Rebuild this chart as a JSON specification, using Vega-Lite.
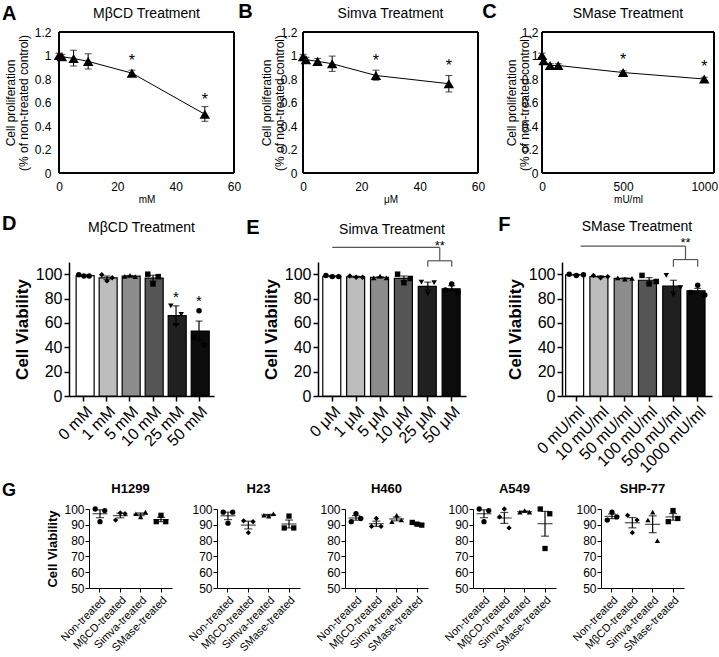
{
"$schema": "https://vega.github.io/schema/vega-lite/v6.json",
"padding": {"left": 2, "top": 2, "right": 0, "bottom": 0},
"background": "white",
"config": {
  "font": "Liberation Sans",
  "view": {"stroke": null},
  "axis": {"grid": false, "labelOverlap": false, "domainColor": "black", "tickColor": "black", "labelColor": "black", "titleColor": "black", "labelFont": "Liberation Sans", "titleFont": "Liberation Sans"},
  "title": {"font": "Liberation Sans", "color": "black", "fontWeight": "normal"}
},
"datasets": {
  "prolif": [
    {"p":"A","x":0,"y":1.0,"lo":0.98,"hi":1.02},
    {"p":"A","x":1,"y":0.99,"lo":0.97,"hi":1.01},
    {"p":"A","x":5,"y":0.975,"lo":0.91,"hi":1.045},
    {"p":"A","x":10,"y":0.95,"lo":0.885,"hi":1.015},
    {"p":"A","x":25,"y":0.85,"lo":0.825,"hi":0.875},
    {"p":"A","x":50,"y":0.5,"lo":0.44,"hi":0.565},
    {"p":"B","x":0,"y":0.99,"lo":0.97,"hi":1.01},
    {"p":"B","x":1,"y":0.965,"lo":0.945,"hi":0.985},
    {"p":"B","x":5,"y":0.95,"lo":0.925,"hi":0.975},
    {"p":"B","x":10,"y":0.93,"lo":0.865,"hi":0.995},
    {"p":"B","x":25,"y":0.83,"lo":0.79,"hi":0.875},
    {"p":"B","x":50,"y":0.76,"lo":0.69,"hi":0.83},
    {"p":"C","x":0,"y":1.0,"lo":0.98,"hi":1.02},
    {"p":"C","x":10,"y":0.955,"lo":0.94,"hi":0.97},
    {"p":"C","x":50,"y":0.915,"lo":0.9,"hi":0.93},
    {"p":"C","x":100,"y":0.915,"lo":0.9,"hi":0.93},
    {"p":"C","x":500,"y":0.855,"lo":0.84,"hi":0.87},
    {"p":"C","x":1000,"y":0.8,"lo":0.785,"hi":0.815}
  ],
  "prolifStar": [
    {"p":"A","x":25,"y":0.98},{"p":"A","x":50,"y":0.65},
    {"p":"B","x":25,"y":0.98},{"p":"B","x":50,"y":0.94},
    {"p":"C","x":500,"y":0.99},{"p":"C","x":1000,"y":0.93}
  ],
  "bars": [
    {"p":"D","c":"0 mM","k":1,"m":98.8,"lo":98.3,"hi":99.3},
    {"p":"D","c":"1 mM","k":2,"m":97,"lo":95.5,"hi":98.5},
    {"p":"D","c":"5 mM","k":3,"m":98.4,"lo":97.9,"hi":98.9},
    {"p":"D","c":"10 mM","k":4,"m":96.7,"lo":94.3,"hi":99.1},
    {"p":"D","c":"25 mM","k":5,"m":66,"lo":59,"hi":74},
    {"p":"D","c":"50 mM","k":6,"m":53.3,"lo":45.5,"hi":61.5},
    {"p":"E","c":"0 μM","k":1,"m":98.3,"lo":97.8,"hi":98.8},
    {"p":"E","c":"1 μM","k":2,"m":97.8,"lo":97.3,"hi":98.3},
    {"p":"E","c":"5 μM","k":3,"m":97.5,"lo":97,"hi":98},
    {"p":"E","c":"10 μM","k":4,"m":96.5,"lo":94.5,"hi":98.5},
    {"p":"E","c":"25 μM","k":5,"m":90,"lo":87,"hi":93.5},
    {"p":"E","c":"50 μM","k":6,"m":88,"lo":86.5,"hi":90.5},
    {"p":"F","c":"0 mU/ml","k":1,"m":99.5,"lo":99.2,"hi":99.8},
    {"p":"F","c":"10 mU/ml","k":2,"m":98,"lo":97.4,"hi":98.6},
    {"p":"F","c":"50 mU/ml","k":3,"m":96.5,"lo":96.2,"hi":96.8},
    {"p":"F","c":"100 mU/ml","k":4,"m":95,"lo":92.8,"hi":97.2},
    {"p":"F","c":"500 mU/ml","k":5,"m":90.3,"lo":85.6,"hi":95},
    {"p":"F","c":"1000 mU/ml","k":6,"m":86.3,"lo":84.3,"hi":88.3}
  ],
  "barPts": [
    {"p":"D","c":"0 mM","k":1,"r":"a","v":99.5},{"p":"D","c":"0 mM","k":1,"r":"b","v":98.5},{"p":"D","c":"0 mM","k":1,"r":"c","v":98.5},
    {"p":"D","c":"1 mM","k":2,"r":"a","v":99.5},{"p":"D","c":"1 mM","k":2,"r":"b","v":94.5},{"p":"D","c":"1 mM","k":2,"r":"c","v":97},
    {"p":"D","c":"5 mM","k":3,"r":"a","v":98.2},{"p":"D","c":"5 mM","k":3,"r":"b","v":99},{"p":"D","c":"5 mM","k":3,"r":"c","v":98},
    {"p":"D","c":"10 mM","k":4,"r":"a","v":100},{"p":"D","c":"10 mM","k":4,"r":"b","v":92},{"p":"D","c":"10 mM","k":4,"r":"c","v":98},
    {"p":"D","c":"25 mM","k":5,"r":"a","v":74},{"p":"D","c":"25 mM","k":5,"r":"b","v":58},{"p":"D","c":"25 mM","k":5,"r":"c","v":67},
    {"p":"D","c":"50 mM","k":6,"r":"a","v":48},{"p":"D","c":"50 mM","k":6,"r":"b","v":70},{"p":"D","c":"50 mM","k":6,"r":"c","v":42},
    {"p":"E","c":"0 μM","k":1,"r":"a","v":99},{"p":"E","c":"0 μM","k":1,"r":"b","v":98},{"p":"E","c":"0 μM","k":1,"r":"c","v":98},
    {"p":"E","c":"1 μM","k":2,"r":"a","v":98.5},{"p":"E","c":"1 μM","k":2,"r":"b","v":97.5},{"p":"E","c":"1 μM","k":2,"r":"c","v":97.5},
    {"p":"E","c":"5 μM","k":3,"r":"a","v":97},{"p":"E","c":"5 μM","k":3,"r":"b","v":98.5},{"p":"E","c":"5 μM","k":3,"r":"c","v":97},
    {"p":"E","c":"10 μM","k":4,"r":"a","v":100},{"p":"E","c":"10 μM","k":4,"r":"b","v":93},{"p":"E","c":"10 μM","k":4,"r":"c","v":96.5},
    {"p":"E","c":"25 μM","k":5,"r":"a","v":93.5},{"p":"E","c":"25 μM","k":5,"r":"b","v":84},{"p":"E","c":"25 μM","k":5,"r":"c","v":93},
    {"p":"E","c":"50 μM","k":6,"r":"a","v":87},{"p":"E","c":"50 μM","k":6,"r":"b","v":92},{"p":"E","c":"50 μM","k":6,"r":"c","v":85},
    {"p":"F","c":"0 mU/ml","k":1,"r":"a","v":100},{"p":"F","c":"0 mU/ml","k":1,"r":"b","v":99},{"p":"F","c":"0 mU/ml","k":1,"r":"c","v":99.5},
    {"p":"F","c":"10 mU/ml","k":2,"r":"a","v":99},{"p":"F","c":"10 mU/ml","k":2,"r":"b","v":97},{"p":"F","c":"10 mU/ml","k":2,"r":"c","v":98},
    {"p":"F","c":"50 mU/ml","k":3,"r":"a","v":97},{"p":"F","c":"50 mU/ml","k":3,"r":"b","v":96},{"p":"F","c":"50 mU/ml","k":3,"r":"c","v":96.5},
    {"p":"F","c":"100 mU/ml","k":4,"r":"a","v":99},{"p":"F","c":"100 mU/ml","k":4,"r":"b","v":92},{"p":"F","c":"100 mU/ml","k":4,"r":"c","v":94},
    {"p":"F","c":"500 mU/ml","k":5,"r":"a","v":99},{"p":"F","c":"500 mU/ml","k":5,"r":"b","v":83},{"p":"F","c":"500 mU/ml","k":5,"r":"c","v":89},
    {"p":"F","c":"1000 mU/ml","k":6,"r":"a","v":85},{"p":"F","c":"1000 mU/ml","k":6,"r":"b","v":91},{"p":"F","c":"1000 mU/ml","k":6,"r":"c","v":83}
  ],
  "gPts": [
    {"cl":"H1299","t":"Non-treated","r":"a","v":100},{"cl":"H1299","t":"Non-treated","r":"b","v":92},{"cl":"H1299","t":"Non-treated","r":"c","v":99},
    {"cl":"H1299","t":"MβCD-treated","r":"a","v":93},{"cl":"H1299","t":"MβCD-treated","r":"b","v":97.5},{"cl":"H1299","t":"MβCD-treated","r":"c","v":97},
    {"cl":"H1299","t":"Simva-treated","r":"a","v":97},{"cl":"H1299","t":"Simva-treated","r":"b","v":95},{"cl":"H1299","t":"Simva-treated","r":"c","v":98},
    {"cl":"H1299","t":"SMase-treated","r":"a","v":92},{"cl":"H1299","t":"SMase-treated","r":"b","v":96},{"cl":"H1299","t":"SMase-treated","r":"c","v":92},
    {"cl":"H23","t":"Non-treated","r":"a","v":98},{"cl":"H23","t":"Non-treated","r":"b","v":91},{"cl":"H23","t":"Non-treated","r":"c","v":98},
    {"cl":"H23","t":"MβCD-treated","r":"a","v":92.5},{"cl":"H23","t":"MβCD-treated","r":"b","v":85},{"cl":"H23","t":"MβCD-treated","r":"c","v":92},
    {"cl":"H23","t":"Simva-treated","r":"a","v":96},{"cl":"H23","t":"Simva-treated","r":"b","v":95.5},{"cl":"H23","t":"Simva-treated","r":"c","v":97},
    {"cl":"H23","t":"SMase-treated","r":"a","v":88},{"cl":"H23","t":"SMase-treated","r":"b","v":95.5},{"cl":"H23","t":"SMase-treated","r":"c","v":88},
    {"cl":"H460","t":"Non-treated","r":"a","v":92},{"cl":"H460","t":"Non-treated","r":"b","v":97},{"cl":"H460","t":"Non-treated","r":"c","v":94},
    {"cl":"H460","t":"MβCD-treated","r":"a","v":89},{"cl":"H460","t":"MβCD-treated","r":"b","v":94},{"cl":"H460","t":"MβCD-treated","r":"c","v":89},
    {"cl":"H460","t":"Simva-treated","r":"a","v":92},{"cl":"H460","t":"Simva-treated","r":"b","v":96},{"cl":"H460","t":"Simva-treated","r":"c","v":93},
    {"cl":"H460","t":"SMase-treated","r":"a","v":91.5},{"cl":"H460","t":"SMase-treated","r":"b","v":90.4},{"cl":"H460","t":"SMase-treated","r":"c","v":89.8},
    {"cl":"A549","t":"Non-treated","r":"a","v":100},{"cl":"A549","t":"Non-treated","r":"b","v":92},{"cl":"A549","t":"Non-treated","r":"c","v":99},
    {"cl":"A549","t":"MβCD-treated","r":"a","v":95},{"cl":"A549","t":"MβCD-treated","r":"b","v":100},{"cl":"A549","t":"MβCD-treated","r":"c","v":88},
    {"cl":"A549","t":"Simva-treated","r":"a","v":98},{"cl":"A549","t":"Simva-treated","r":"b","v":99},{"cl":"A549","t":"Simva-treated","r":"c","v":98},
    {"cl":"A549","t":"SMase-treated","r":"a","v":100},{"cl":"A549","t":"SMase-treated","r":"b","v":75},{"cl":"A549","t":"SMase-treated","r":"c","v":97},
    {"cl":"SHP-77","t":"Non-treated","r":"a","v":93},{"cl":"SHP-77","t":"Non-treated","r":"b","v":98},{"cl":"SHP-77","t":"Non-treated","r":"c","v":95},
    {"cl":"SHP-77","t":"MβCD-treated","r":"a","v":96},{"cl":"SHP-77","t":"MβCD-treated","r":"b","v":85},{"cl":"SHP-77","t":"MβCD-treated","r":"c","v":93},
    {"cl":"SHP-77","t":"Simva-treated","r":"a","v":93},{"cl":"SHP-77","t":"Simva-treated","r":"b","v":98},{"cl":"SHP-77","t":"Simva-treated","r":"c","v":80},
    {"cl":"SHP-77","t":"SMase-treated","r":"a","v":92},{"cl":"SHP-77","t":"SMase-treated","r":"b","v":99},{"cl":"SHP-77","t":"SMase-treated","r":"c","v":94}
  ],
  "gSum": [
    {"cl":"H1299","t":"Non-treated","m":97,"lo":94.5,"hi":99.5},
    {"cl":"H1299","t":"MβCD-treated","m":95.8,"lo":94.4,"hi":97.3},
    {"cl":"H1299","t":"Simva-treated","m":96.7,"lo":95.8,"hi":97.5},
    {"cl":"H1299","t":"SMase-treated","m":93.3,"lo":92,"hi":94.7},
    {"cl":"H23","t":"Non-treated","m":95.7,"lo":93.3,"hi":98},
    {"cl":"H23","t":"MβCD-treated","m":89.8,"lo":87.4,"hi":92.3},
    {"cl":"H23","t":"Simva-treated","m":96.2,"lo":95.7,"hi":96.6},
    {"cl":"H23","t":"SMase-treated","m":90.5,"lo":88,"hi":93},
    {"cl":"H460","t":"Non-treated","m":94.3,"lo":92.9,"hi":95.8},
    {"cl":"H460","t":"MβCD-treated","m":90.7,"lo":89,"hi":92.3},
    {"cl":"H460","t":"Simva-treated","m":93.7,"lo":92.5,"hi":94.9},
    {"cl":"H460","t":"SMase-treated","m":90.6,"lo":90.1,"hi":91.1},
    {"cl":"A549","t":"Non-treated","m":97,"lo":94.5,"hi":99.5},
    {"cl":"A549","t":"MβCD-treated","m":94.3,"lo":90.9,"hi":97.8},
    {"cl":"A549","t":"Simva-treated","m":98.3,"lo":98,"hi":98.7},
    {"cl":"A549","t":"SMase-treated","m":90.7,"lo":82.8,"hi":98.5},
    {"cl":"SHP-77","t":"Non-treated","m":95.3,"lo":93.9,"hi":96.8},
    {"cl":"SHP-77","t":"MβCD-treated","m":91.3,"lo":88.1,"hi":94.6},
    {"cl":"SHP-77","t":"Simva-treated","m":90.3,"lo":85,"hi":95.7},
    {"cl":"SHP-77","t":"SMase-treated","m":95,"lo":92.9,"hi":97.1}
  ]
},
"resolve": {"scale": {"shape": "independent", "color": "independent", "xOffset": "independent"}},
"spacing": 6,
"vconcat": [
{
"spacing": 10,
"resolve": {"scale": {"shape": "independent", "color": "independent", "xOffset": "independent"}},
"vconcat": [
{
  "spacing": -13,
  "resolve": {"scale": {"shape": "independent", "color": "independent", "xOffset": "independent"}},
  "hconcat": [
    {"width": 14, "height": 141,
     "title": {"text": "A", "anchor": "start", "fontSize": 20, "fontWeight": "bold", "offset": 8},
     "data": {"values": []}, "mark": {"type": "point", "opacity": 0}, "encoding": {}},
    {
      "spacing": -3,
      "resolve": {"scale": {"shape": "independent", "color": "independent", "xOffset": "independent"}},
      "hconcat": [
      {
        "width": 175, "height": 141,
        "title": {"text": "MβCD Treatment", "fontSize": 14, "offset": 5},
        "data": {"name": "prolif"},
        "transform": [{"filter": "datum.p == 'A'"}],
        "encoding": {
          "x": {"field": "x", "type": "quantitative", "scale": {"domain": [0, 60]}, "axis": {"values": [0, 20, 40, 60], "title": "mM", "titleFontSize": 10, "titleFontWeight": "normal", "titlePadding": 2, "labelFontSize": 12, "labelPadding": 8, "labelFlush": false, "domain": false, "ticks": false}}
        },
        "layer": [
          {"mark": {"type": "line", "color": "black", "strokeWidth": 1},
           "encoding": {"y": {"field": "y", "type": "quantitative", "scale": {"domain": [0, 1.2]}, "axis": {"values": [0, 0.2, 0.4, 0.6, 0.8, 1, 1.2], "tickCount": 7, "labelExpr": "'' + datum.value", "labelOverlap": false, "title": ["Cell proliferation", "(% of non-treated control)"], "titleFontSize": 12, "titleFontWeight": "normal", "titleLineHeight": 13, "titlePadding": 4, "labelFontSize": 12, "labelPadding": 8, "domain": false, "ticks": false}}}},
          {"mark": {"type": "errorbar", "color": "black", "ticks": {"size": 7}},
           "encoding": {"y": {"field": "lo", "type": "quantitative", "axis": {"values": [0, 0.2, 0.4, 0.6, 0.8, 1, 1.2], "tickCount": 7, "labelExpr": "'' + datum.value", "labelOverlap": false, "title": ["Cell proliferation", "(% of non-treated control)"], "titleFontSize": 12, "titleFontWeight": "normal", "titleLineHeight": 13, "titlePadding": 4, "labelFontSize": 12, "labelPadding": 8, "domain": false, "ticks": false}}, "y2": {"field": "hi"}}},
          {"mark": {"type": "point", "shape": "triangle-up", "filled": true, "color": "black", "size": 110, "opacity": 1},
           "encoding": {"y": {"field": "y", "type": "quantitative", "axis": {"values": [0, 0.2, 0.4, 0.6, 0.8, 1, 1.2], "tickCount": 7, "labelExpr": "'' + datum.value", "labelOverlap": false, "title": ["Cell proliferation", "(% of non-treated control)"], "titleFontSize": 12, "titleFontWeight": "normal", "titleLineHeight": 13, "titlePadding": 4, "labelFontSize": 12, "labelPadding": 8, "domain": false, "ticks": false}}}},
          {"mark": {"type": "rule", "color": "black", "strokeWidth": 1}, "encoding": {"x": {"datum": 0}}},
          {"mark": {"type": "rule", "color": "black", "strokeWidth": 1}, "encoding": {"x": {"datum": 60}}},
          {"mark": {"type": "rule", "color": "black", "strokeWidth": 1}, "encoding": {"x": {"datum": 0}, "x2": {"datum": 60}, "y": {"datum": 0}}},
          {"mark": {"type": "rule", "color": "black", "strokeWidth": 1}, "encoding": {"x": {"datum": 0}, "x2": {"datum": 60}, "y": {"datum": 1.2}}},
          {"data": {"name": "prolifStar"}, "transform": [{"filter": "datum.p == 'A'"}],
           "mark": {"type": "text", "text": "*", "fontSize": 16, "baseline": "alphabetic", "dy": 8},
           "encoding": {"y": {"field": "y", "type": "quantitative", "axis": {"values": [0, 0.2, 0.4, 0.6, 0.8, 1, 1.2], "tickCount": 7, "labelExpr": "'' + datum.value", "labelOverlap": false, "title": ["Cell proliferation", "(% of non-treated control)"], "titleFontSize": 12, "titleFontWeight": "normal", "titleLineHeight": 13, "titlePadding": 4, "labelFontSize": 12, "labelPadding": 8, "domain": false, "ticks": false}}}}
        ]
      },
      {
        "title": {"text": "B", "anchor": "start", "fontSize": 20, "fontWeight": "bold", "offset": -15, "dx": -22},
        "hconcat": [{
          "width": 175, "height": 141,
          "title": {"text": "Simva Treatment", "fontSize": 14, "offset": 5},
          "data": {"name": "prolif"},
          "transform": [{"filter": "datum.p == 'B'"}],
          "encoding": {
            "x": {"field": "x", "type": "quantitative", "scale": {"domain": [0, 60]}, "axis": {"values": [0, 20, 40, 60], "title": "μM", "titleFontSize": 10, "titleFontWeight": "normal", "titlePadding": 2, "labelFontSize": 12, "labelPadding": 8, "labelFlush": false, "domain": false, "ticks": false}}
          },
          "layer": [
            {"mark": {"type": "line", "color": "black", "strokeWidth": 1},
             "encoding": {"y": {"field": "y", "type": "quantitative", "scale": {"domain": [0, 1.2]}, "axis": {"values": [0, 0.2, 0.4, 0.6, 0.8, 1, 1.2], "tickCount": 7, "labelExpr": "'' + datum.value", "labelOverlap": false, "title": ["Cell proliferation", "(% of non-treated control)"], "titleFontSize": 12, "titleFontWeight": "normal", "titleLineHeight": 13, "titlePadding": -6, "labelFontSize": 12, "labelPadding": 6, "domain": false, "ticks": false}}}},
            {"mark": {"type": "errorbar", "color": "black", "ticks": {"size": 7}},
             "encoding": {"y": {"field": "lo", "type": "quantitative", "axis": {"values": [0, 0.2, 0.4, 0.6, 0.8, 1, 1.2], "tickCount": 7, "labelExpr": "'' + datum.value", "labelOverlap": false, "title": ["Cell proliferation", "(% of non-treated control)"], "titleFontSize": 12, "titleFontWeight": "normal", "titleLineHeight": 13, "titlePadding": -6, "labelFontSize": 12, "labelPadding": 6, "domain": false, "ticks": false}}, "y2": {"field": "hi"}}},
            {"mark": {"type": "point", "shape": "triangle-up", "filled": true, "color": "black", "size": 110, "opacity": 1},
             "encoding": {"y": {"field": "y", "type": "quantitative", "axis": {"values": [0, 0.2, 0.4, 0.6, 0.8, 1, 1.2], "tickCount": 7, "labelExpr": "'' + datum.value", "labelOverlap": false, "title": ["Cell proliferation", "(% of non-treated control)"], "titleFontSize": 12, "titleFontWeight": "normal", "titleLineHeight": 13, "titlePadding": -6, "labelFontSize": 12, "labelPadding": 6, "domain": false, "ticks": false}}}},
            {"mark": {"type": "rule", "color": "black", "strokeWidth": 1}, "encoding": {"x": {"datum": 0}}},
            {"mark": {"type": "rule", "color": "black", "strokeWidth": 1}, "encoding": {"x": {"datum": 60}}},
            {"mark": {"type": "rule", "color": "black", "strokeWidth": 1}, "encoding": {"x": {"datum": 0}, "x2": {"datum": 60}, "y": {"datum": 0}}},
            {"mark": {"type": "rule", "color": "black", "strokeWidth": 1}, "encoding": {"x": {"datum": 0}, "x2": {"datum": 60}, "y": {"datum": 1.2}}},
            {"data": {"name": "prolifStar"}, "transform": [{"filter": "datum.p == 'B'"}],
             "mark": {"type": "text", "text": "*", "fontSize": 16, "baseline": "alphabetic", "dy": 8},
             "encoding": {"y": {"field": "y", "type": "quantitative", "axis": {"values": [0, 0.2, 0.4, 0.6, 0.8, 1, 1.2], "tickCount": 7, "labelExpr": "'' + datum.value", "labelOverlap": false, "title": ["Cell proliferation", "(% of non-treated control)"], "titleFontSize": 12, "titleFontWeight": "normal", "titleLineHeight": 13, "titlePadding": -6, "labelFontSize": 12, "labelPadding": 6, "domain": false, "ticks": false}}}}
          ]
        }]
      },
      {
        "title": {"text": "C", "anchor": "start", "fontSize": 20, "fontWeight": "bold", "offset": -15, "dx": -23},
        "hconcat": [{
          "width": 172, "height": 141,
          "title": {"text": "SMase Treatment", "fontSize": 14, "offset": 5},
          "data": {"name": "prolif"},
          "transform": [{"filter": "datum.p == 'C'"}],
          "encoding": {
            "x": {"field": "x", "type": "quantitative", "scale": {"domain": [0, 1060]}, "axis": {"values": [0, 500, 1000], "format": "d", "title": "mU/ml", "titleFontSize": 10, "titleFontWeight": "normal", "titlePadding": 2, "labelFontSize": 12, "labelPadding": 8, "labelFlush": false, "domain": false, "ticks": false}}
          },
          "layer": [
            {"mark": {"type": "line", "color": "black", "strokeWidth": 1},
             "encoding": {"y": {"field": "y", "type": "quantitative", "scale": {"domain": [0, 1.2]}, "axis": {"values": [0, 0.2, 0.4, 0.6, 0.8, 1, 1.2], "tickCount": 7, "labelExpr": "'' + datum.value", "labelOverlap": false, "title": ["Cell proliferation", "(% of non-treated control)"], "titleFontSize": 12, "titleFontWeight": "normal", "titleLineHeight": 13, "titlePadding": -10, "labelFontSize": 12, "labelPadding": 4, "domain": false, "ticks": false}}}},
            {"mark": {"type": "errorbar", "color": "black", "ticks": {"size": 7}},
             "encoding": {"y": {"field": "lo", "type": "quantitative", "axis": {"values": [0, 0.2, 0.4, 0.6, 0.8, 1, 1.2], "tickCount": 7, "labelExpr": "'' + datum.value", "labelOverlap": false, "title": ["Cell proliferation", "(% of non-treated control)"], "titleFontSize": 12, "titleFontWeight": "normal", "titleLineHeight": 13, "titlePadding": -10, "labelFontSize": 12, "labelPadding": 4, "domain": false, "ticks": false}}, "y2": {"field": "hi"}}},
            {"mark": {"type": "point", "shape": "triangle-up", "filled": true, "color": "black", "size": 110, "opacity": 1},
             "encoding": {"y": {"field": "y", "type": "quantitative", "axis": {"values": [0, 0.2, 0.4, 0.6, 0.8, 1, 1.2], "tickCount": 7, "labelExpr": "'' + datum.value", "labelOverlap": false, "title": ["Cell proliferation", "(% of non-treated control)"], "titleFontSize": 12, "titleFontWeight": "normal", "titleLineHeight": 13, "titlePadding": -10, "labelFontSize": 12, "labelPadding": 4, "domain": false, "ticks": false}}}},
            {"mark": {"type": "rule", "color": "black", "strokeWidth": 1}, "encoding": {"x": {"datum": 0}}},
            {"mark": {"type": "rule", "color": "black", "strokeWidth": 1}, "encoding": {"x": {"datum": 1060}}},
            {"mark": {"type": "rule", "color": "black", "strokeWidth": 1}, "encoding": {"x": {"datum": 0}, "x2": {"datum": 1060}, "y": {"datum": 0}}},
            {"mark": {"type": "rule", "color": "black", "strokeWidth": 1}, "encoding": {"x": {"datum": 0}, "x2": {"datum": 1060}, "y": {"datum": 1.2}}},
            {"data": {"name": "prolifStar"}, "transform": [{"filter": "datum.p == 'C'"}],
             "mark": {"type": "text", "text": "*", "fontSize": 16, "baseline": "alphabetic", "dy": 8},
             "encoding": {"y": {"field": "y", "type": "quantitative", "axis": {"values": [0, 0.2, 0.4, 0.6, 0.8, 1, 1.2], "tickCount": 7, "labelExpr": "'' + datum.value", "labelOverlap": false, "title": ["Cell proliferation", "(% of non-treated control)"], "titleFontSize": 12, "titleFontWeight": "normal", "titleLineHeight": 13, "titlePadding": -10, "labelFontSize": 12, "labelPadding": 4, "domain": false, "ticks": false}}}}
          ]
        }]
      }
      ]
    }
  ]
},
{
  "spacing": -4,
  "resolve": {"scale": {"shape": "independent", "color": "independent", "xOffset": "independent"}},
  "hconcat": [
    {"width": 14, "height": 134,
     "title": {"text": "D", "anchor": "start", "fontSize": 20, "fontWeight": "bold", "offset": 28},
     "data": {"values": []}, "mark": {"type": "point", "opacity": 0}, "encoding": {}},
    {
      "spacing": 32,
      "resolve": {"scale": {"shape": "independent", "color": "independent", "xOffset": "independent"}},
      "hconcat": [
      {
        "width": 145, "height": 134,
        "title": {"text": "MβCD Treatment", "fontSize": 14, "offset": 27},
        "encoding": {
          "x": {"field": "c", "type": "nominal", "sort": null, "scale": {"domain": ["0 mM", "1 mM", "5 mM", "10 mM", "25 mM", "50 mM"], "paddingInner": 0.32, "paddingOuter": 0.31}, "axis": {"title": null, "labelAngle": -45, "labelFontSize": 16, "tickSize": 5, "tickWidth": 1.5, "domainWidth": 1.5, "labelPadding": 2}}
        },
        "layer": [
          {"data": {"name": "bars"}, "transform": [{"filter": "datum.p == 'D'"}],
           "mark": {"type": "bar", "stroke": "black", "strokeWidth": 1.2},
           "encoding": {
             "y": {"field": "m", "type": "quantitative", "scale": {"domain": [0, 110]}, "axis": {"title": "Cell Viability", "titleFontSize": 17, "titleFontWeight": "bold", "values": [0, 20, 40, 60, 80, 100], "labelFontSize": 16, "tickSize": 5, "tickWidth": 1.5, "domainWidth": 1.5, "labelPadding": 2, "titlePadding": 4}},
             "color": {"field": "k", "type": "ordinal", "scale": {"domain": [1, 2, 3, 4, 5, 6], "range": ["#ffffff", "#bdbdbd", "#8c8c8c", "#565656", "#202020", "#0c0c0c"]}, "legend": null}}},
          {"data": {"name": "bars"}, "transform": [{"filter": "datum.p == 'D'"}],
           "mark": {"type": "errorbar", "color": "black", "ticks": {"size": 7}, "thickness": 1.2},
           "encoding": {"y": {"field": "lo", "type": "quantitative", "axis": {"title": "Cell Viability", "titleFontSize": 17, "titleFontWeight": "bold", "values": [0, 20, 40, 60, 80, 100], "labelFontSize": 16, "tickSize": 5, "tickWidth": 1.5, "domainWidth": 1.5, "labelPadding": 2, "titlePadding": 4}}, "y2": {"field": "hi"}}},
          {"data": {"name": "barPts"}, "transform": [{"filter": "datum.p == 'D'"}],
           "mark": {"type": "point", "filled": true, "color": "black", "size": 30, "opacity": 1},
           "encoding": {"y": {"field": "v", "type": "quantitative", "axis": {"title": "Cell Viability", "titleFontSize": 17, "titleFontWeight": "bold", "values": [0, 20, 40, 60, 80, 100], "labelFontSize": 16, "tickSize": 5, "tickWidth": 1.5, "domainWidth": 1.5, "labelPadding": 2, "titlePadding": 4}}, "xOffset": {"field": "r", "type": "nominal"},
             "shape": {"field": "k", "type": "ordinal", "scale": {"domain": [1, 2, 3, 4, 5, 6], "range": ["circle", "diamond", "triangle-up", "square", "triangle-down", "circle"]}, "legend": null}}},
          {"data": {"values": [{"c": "25 mM", "y": 83}, {"c": "50 mM", "y": 80}]},
           "mark": {"type": "text", "text": "*", "fontSize": 15, "baseline": "alphabetic", "dy": 7},
           "encoding": {"y": {"field": "y", "type": "quantitative", "axis": {"title": "Cell Viability", "titleFontSize": 17, "titleFontWeight": "bold", "values": [0, 20, 40, 60, 80, 100], "labelFontSize": 16, "tickSize": 5, "tickWidth": 1.5, "domainWidth": 1.5, "labelPadding": 2, "titlePadding": 4}}}}
        ]
      },
      {
        "title": {"text": "E", "anchor": "start", "fontSize": 20, "fontWeight": "bold", "offset": -15, "dx": -16},
        "hconcat": [{
          "width": 148, "height": 134,
          "title": {"text": "Simva Treatment", "fontSize": 14, "offset": 3},
          "encoding": {
            "x": {"field": "c", "type": "nominal", "sort": null, "scale": {"domain": ["0 μM", "1 μM", "5 μM", "10 μM", "25 μM", "50 μM"], "paddingInner": 0.2, "paddingOuter": 0.2}, "axis": {"title": null, "labelAngle": -45, "labelFontSize": 16, "tickSize": 5, "tickWidth": 1.5, "domainWidth": 1.5, "labelPadding": 2}}
          },
          "layer": [
            {"data": {"name": "bars"}, "transform": [{"filter": "datum.p == 'E'"}],
             "mark": {"type": "bar", "stroke": "black", "strokeWidth": 1.2},
             "encoding": {
               "y": {"field": "m", "type": "quantitative", "scale": {"domain": [0, 110]}, "axis": {"title": "Cell Viability", "titleFontSize": 17, "titleFontWeight": "bold", "values": [0, 20, 40, 60, 80, 100], "labelFontSize": 16, "tickSize": 5, "tickWidth": 1.5, "domainWidth": 1.5, "labelPadding": 2, "titlePadding": 4}},
               "color": {"field": "k", "type": "ordinal", "scale": {"domain": [1, 2, 3, 4, 5, 6], "range": ["#ffffff", "#bdbdbd", "#8c8c8c", "#565656", "#202020", "#0c0c0c"]}, "legend": null}}},
            {"data": {"name": "bars"}, "transform": [{"filter": "datum.p == 'E'"}],
             "mark": {"type": "errorbar", "color": "black", "ticks": {"size": 7}, "thickness": 1.2},
             "encoding": {"y": {"field": "lo", "type": "quantitative", "axis": {"title": "Cell Viability", "titleFontSize": 17, "titleFontWeight": "bold", "values": [0, 20, 40, 60, 80, 100], "labelFontSize": 16, "tickSize": 5, "tickWidth": 1.5, "domainWidth": 1.5, "labelPadding": 2, "titlePadding": 4}}, "y2": {"field": "hi"}}},
            {"data": {"name": "barPts"}, "transform": [{"filter": "datum.p == 'E'"}],
             "mark": {"type": "point", "filled": true, "color": "black", "size": 30, "opacity": 1},
             "encoding": {"y": {"field": "v", "type": "quantitative", "axis": {"title": "Cell Viability", "titleFontSize": 17, "titleFontWeight": "bold", "values": [0, 20, 40, 60, 80, 100], "labelFontSize": 16, "tickSize": 5, "tickWidth": 1.5, "domainWidth": 1.5, "labelPadding": 2, "titlePadding": 4}}, "xOffset": {"field": "r", "type": "nominal"},
               "shape": {"field": "k", "type": "ordinal", "scale": {"domain": [1, 2, 3, 4, 5, 6], "range": ["circle", "diamond", "triangle-up", "square", "triangle-down", "circle"]}, "legend": null}}},
            {"data": {"values": [{"a": "25 μM", "b": "50 μM", "y": 111}]},
             "mark": {"type": "rule", "color": "#555", "strokeWidth": 1.2},
             "encoding": {"x": {"field": "a", "type": "nominal"}, "x2": {"field": "b"}, "y": {"field": "y", "type": "quantitative", "axis": {"title": "Cell Viability", "titleFontSize": 17, "titleFontWeight": "bold", "values": [0, 20, 40, 60, 80, 100], "labelFontSize": 16, "tickSize": 5, "tickWidth": 1.5, "domainWidth": 1.5, "labelPadding": 2, "titlePadding": 4}}}},
            {"data": {"values": [{"c": "25 μM", "y": 106, "y2": 111}, {"c": "50 μM", "y": 106, "y2": 111}]},
             "mark": {"type": "rule", "color": "#555", "strokeWidth": 1.2},
             "encoding": {"y": {"field": "y", "type": "quantitative", "axis": {"title": "Cell Viability", "titleFontSize": 17, "titleFontWeight": "bold", "values": [0, 20, 40, 60, 80, 100], "labelFontSize": 16, "tickSize": 5, "tickWidth": 1.5, "domainWidth": 1.5, "labelPadding": 2, "titlePadding": 4}}, "y2": {"field": "y2"}}},
            {"data": {"values": [{"a": "0 μM", "b": "50 μM", "y": 122}]},
             "mark": {"type": "rule", "color": "#555", "strokeWidth": 1.2},
             "encoding": {"x": {"field": "a", "type": "nominal", "bandPosition": 0.5}, "x2": {"field": "b", "bandPosition": -0.125}, "y": {"field": "y", "type": "quantitative", "axis": {"title": "Cell Viability", "titleFontSize": 17, "titleFontWeight": "bold", "values": [0, 20, 40, 60, 80, 100], "labelFontSize": 16, "tickSize": 5, "tickWidth": 1.5, "domainWidth": 1.5, "labelPadding": 2, "titlePadding": 4}}}},
            {"data": {"values": [{"c": "50 μM", "y": 111, "y2": 122}]},
             "mark": {"type": "rule", "color": "#555", "strokeWidth": 1.2},
             "encoding": {"x": {"field": "c", "type": "nominal", "bandPosition": -0.125}, "y": {"field": "y", "type": "quantitative", "axis": {"title": "Cell Viability", "titleFontSize": 17, "titleFontWeight": "bold", "values": [0, 20, 40, 60, 80, 100], "labelFontSize": 16, "tickSize": 5, "tickWidth": 1.5, "domainWidth": 1.5, "labelPadding": 2, "titlePadding": 4}}, "y2": {"field": "y2"}}},
            {"data": {"values": [{"c": "50 μM", "y": 126}]},
             "mark": {"type": "text", "text": "**", "fontSize": 13, "baseline": "alphabetic", "dy": 7},
             "encoding": {"x": {"field": "c", "type": "nominal", "bandPosition": -0.125}, "y": {"field": "y", "type": "quantitative", "axis": {"title": "Cell Viability", "titleFontSize": 17, "titleFontWeight": "bold", "values": [0, 20, 40, 60, 80, 100], "labelFontSize": 16, "tickSize": 5, "tickWidth": 1.5, "domainWidth": 1.5, "labelPadding": 2, "titlePadding": 4}}}}
          ]
        }]
      },
      {
        "title": {"text": "F", "anchor": "start", "fontSize": 20, "fontWeight": "bold", "offset": -15, "dx": -8},
        "hconcat": [{
          "width": 150, "height": 134,
          "title": {"text": "SMase Treatment", "fontSize": 14, "offset": 3},
          "encoding": {
            "x": {"field": "c", "type": "nominal", "sort": null, "scale": {"domain": ["0 mU/ml", "10 mU/ml", "50 mU/ml", "100 mU/ml", "500 mU/ml", "1000 mU/ml"], "paddingInner": 0.12, "paddingOuter": 0.15}, "axis": {"title": null, "labelAngle": -45, "labelFontSize": 16, "tickSize": 5, "tickWidth": 1.5, "domainWidth": 1.5, "labelPadding": 2}}
          },
          "layer": [
            {"data": {"name": "bars"}, "transform": [{"filter": "datum.p == 'F'"}],
             "mark": {"type": "bar", "stroke": "black", "strokeWidth": 1.2},
             "encoding": {
               "y": {"field": "m", "type": "quantitative", "scale": {"domain": [0, 110]}, "axis": {"title": "Cell Viability", "titleFontSize": 17, "titleFontWeight": "bold", "values": [0, 20, 40, 60, 80, 100], "labelFontSize": 16, "tickSize": 5, "tickWidth": 1.5, "domainWidth": 1.5, "labelPadding": 2, "titlePadding": 4}},
               "color": {"field": "k", "type": "ordinal", "scale": {"domain": [1, 2, 3, 4, 5, 6], "range": ["#ffffff", "#bdbdbd", "#8c8c8c", "#565656", "#202020", "#0c0c0c"]}, "legend": null}}},
            {"data": {"name": "bars"}, "transform": [{"filter": "datum.p == 'F'"}],
             "mark": {"type": "errorbar", "color": "black", "ticks": {"size": 7}, "thickness": 1.2},
             "encoding": {"y": {"field": "lo", "type": "quantitative", "axis": {"title": "Cell Viability", "titleFontSize": 17, "titleFontWeight": "bold", "values": [0, 20, 40, 60, 80, 100], "labelFontSize": 16, "tickSize": 5, "tickWidth": 1.5, "domainWidth": 1.5, "labelPadding": 2, "titlePadding": 4}}, "y2": {"field": "hi"}}},
            {"data": {"name": "barPts"}, "transform": [{"filter": "datum.p == 'F'"}],
             "mark": {"type": "point", "filled": true, "color": "black", "size": 30, "opacity": 1},
             "encoding": {"y": {"field": "v", "type": "quantitative", "axis": {"title": "Cell Viability", "titleFontSize": 17, "titleFontWeight": "bold", "values": [0, 20, 40, 60, 80, 100], "labelFontSize": 16, "tickSize": 5, "tickWidth": 1.5, "domainWidth": 1.5, "labelPadding": 2, "titlePadding": 4}}, "xOffset": {"field": "r", "type": "nominal"},
               "shape": {"field": "k", "type": "ordinal", "scale": {"domain": [1, 2, 3, 4, 5, 6], "range": ["circle", "diamond", "triangle-up", "square", "triangle-down", "circle"]}, "legend": null}}},
            {"data": {"values": [{"a": "500 mU/ml", "b": "1000 mU/ml", "y": 112}]},
             "mark": {"type": "rule", "color": "#555", "strokeWidth": 1.2},
             "encoding": {"x": {"field": "a", "type": "nominal"}, "x2": {"field": "b"}, "y": {"field": "y", "type": "quantitative", "axis": {"title": "Cell Viability", "titleFontSize": 17, "titleFontWeight": "bold", "values": [0, 20, 40, 60, 80, 100], "labelFontSize": 16, "tickSize": 5, "tickWidth": 1.5, "domainWidth": 1.5, "labelPadding": 2, "titlePadding": 4}}}},
            {"data": {"values": [{"c": "500 mU/ml", "y": 106, "y2": 112}, {"c": "1000 mU/ml", "y": 106, "y2": 112}]},
             "mark": {"type": "rule", "color": "#555", "strokeWidth": 1.2},
             "encoding": {"y": {"field": "y", "type": "quantitative", "axis": {"title": "Cell Viability", "titleFontSize": 17, "titleFontWeight": "bold", "values": [0, 20, 40, 60, 80, 100], "labelFontSize": 16, "tickSize": 5, "tickWidth": 1.5, "domainWidth": 1.5, "labelPadding": 2, "titlePadding": 4}}, "y2": {"field": "y2"}}},
            {"data": {"values": [{"a": "0 mU/ml", "b": "1000 mU/ml", "y": 123}]},
             "mark": {"type": "rule", "color": "#555", "strokeWidth": 1.2},
             "encoding": {"x": {"field": "a", "type": "nominal", "bandPosition": 0.7}, "x2": {"field": "b", "bandPosition": -0.07}, "y": {"field": "y", "type": "quantitative", "axis": {"title": "Cell Viability", "titleFontSize": 17, "titleFontWeight": "bold", "values": [0, 20, 40, 60, 80, 100], "labelFontSize": 16, "tickSize": 5, "tickWidth": 1.5, "domainWidth": 1.5, "labelPadding": 2, "titlePadding": 4}}}},
            {"data": {"values": [{"c": "1000 mU/ml", "y": 112, "y2": 123}]},
             "mark": {"type": "rule", "color": "#555", "strokeWidth": 1.2},
             "encoding": {"x": {"field": "c", "type": "nominal", "bandPosition": -0.07}, "y": {"field": "y", "type": "quantitative", "axis": {"title": "Cell Viability", "titleFontSize": 17, "titleFontWeight": "bold", "values": [0, 20, 40, 60, 80, 100], "labelFontSize": 16, "tickSize": 5, "tickWidth": 1.5, "domainWidth": 1.5, "labelPadding": 2, "titlePadding": 4}}, "y2": {"field": "y2"}}},
            {"data": {"values": [{"c": "1000 mU/ml", "y": 128}]},
             "mark": {"type": "text", "text": "**", "fontSize": 13, "baseline": "alphabetic", "dy": 7},
             "encoding": {"x": {"field": "c", "type": "nominal", "bandPosition": -0.07}, "y": {"field": "y", "type": "quantitative", "axis": {"title": "Cell Viability", "titleFontSize": 17, "titleFontWeight": "bold", "values": [0, 20, 40, 60, 80, 100], "labelFontSize": 16, "tickSize": 5, "tickWidth": 1.5, "domainWidth": 1.5, "labelPadding": 2, "titlePadding": 4}}}}
          ]
        }]
      }
      ]
    }
  ]
}
]
},
{
  "spacing": 29,
  "resolve": {"scale": {"shape": "independent", "color": "independent", "xOffset": "independent"}},
  "hconcat": [
    {"width": 14, "height": 79,
     "title": {"text": "G", "anchor": "start", "fontSize": 18, "fontWeight": "bold", "offset": 9},
     "data": {"values": []}, "mark": {"type": "point", "opacity": 0}, "encoding": {}},
    {
    "spacing": 14,
    "resolve": {"scale": {"shape": "independent", "color": "independent", "xOffset": "independent"}},
    "hconcat": [
    {"width": 83, "height": 79,
     "title": {"text": "H1299", "fontSize": 13, "fontWeight": "bold", "offset": 7},
     "encoding": {"x": {"field": "t", "type": "nominal", "sort": null, "scale": {"domain": ["Non-treated", "MβCD-treated", "Simva-treated", "SMase-treated"], "paddingInner": 0.3, "paddingOuter": 0.19}, "axis": {"title": null, "labelAngle": -45, "labelFontSize": 11, "tickSize": 4, "labelPadding": 2}}},
     "layer": [
       {"data": {"name": "gPts"}, "transform": [{"filter": "datum.cl == 'H1299'"}],
        "mark": {"type": "point", "filled": true, "color": "black", "size": 28, "opacity": 1},
        "encoding": {"y": {"field": "v", "type": "quantitative", "scale": {"domain": [50, 100]}, "axis": {"values": [50, 60, 70, 80, 90, 100], "labelFontSize": 12, "tickSize": 4, "labelPadding": 1, "title": "Cell Viability", "titleFontSize": 13, "titleFontWeight": "bold", "titlePadding": 4}},
          "xOffset": {"field": "r", "type": "nominal"},
          "shape": {"field": "t", "type": "nominal", "scale": {"domain": ["Non-treated", "MβCD-treated", "Simva-treated", "SMase-treated"], "range": ["circle", "diamond", "triangle-up", "square"]}, "legend": null}}},
       {"data": {"name": "gSum"}, "transform": [{"filter": "datum.cl == 'H1299'"}],
        "mark": {"type": "tick", "color": "black", "size": 15, "thickness": 1.2},
        "encoding": {"y": {"field": "m", "type": "quantitative", "axis": {"values": [50, 60, 70, 80, 90, 100], "labelFontSize": 12, "tickSize": 4, "labelPadding": 1, "title": "Cell Viability", "titleFontSize": 13, "titleFontWeight": "bold", "titlePadding": 4}}}},
       {"data": {"name": "gSum"}, "transform": [{"filter": "datum.cl == 'H1299'"}],
        "mark": {"type": "errorbar", "color": "black", "ticks": {"size": 8}, "thickness": 1.2},
        "encoding": {"y": {"field": "lo", "type": "quantitative", "axis": {"values": [50, 60, 70, 80, 90, 100], "labelFontSize": 12, "tickSize": 4, "labelPadding": 1, "title": "Cell Viability", "titleFontSize": 13, "titleFontWeight": "bold", "titlePadding": 4}}, "y2": {"field": "hi"}}}
     ]},
    {"width": 83, "height": 79,
     "title": {"text": "H23", "fontSize": 13, "fontWeight": "bold", "offset": 7},
     "encoding": {"x": {"field": "t", "type": "nominal", "sort": null, "scale": {"domain": ["Non-treated", "MβCD-treated", "Simva-treated", "SMase-treated"], "paddingInner": 0.3, "paddingOuter": 0.19}, "axis": {"title": null, "labelAngle": -45, "labelFontSize": 11, "tickSize": 4, "labelPadding": 2}}},
     "layer": [
       {"data": {"name": "gPts"}, "transform": [{"filter": "datum.cl == 'H23'"}],
        "mark": {"type": "point", "filled": true, "color": "black", "size": 28, "opacity": 1},
        "encoding": {"y": {"field": "v", "type": "quantitative", "scale": {"domain": [50, 100]}, "axis": {"values": [50, 60, 70, 80, 90, 100], "labelFontSize": 12, "tickSize": 4, "labelPadding": 1, "title": null}},
          "xOffset": {"field": "r", "type": "nominal"},
          "shape": {"field": "t", "type": "nominal", "scale": {"domain": ["Non-treated", "MβCD-treated", "Simva-treated", "SMase-treated"], "range": ["circle", "diamond", "triangle-up", "square"]}, "legend": null}}},
       {"data": {"name": "gSum"}, "transform": [{"filter": "datum.cl == 'H23'"}],
        "mark": {"type": "tick", "color": "black", "size": 15, "thickness": 1.2},
        "encoding": {"y": {"field": "m", "type": "quantitative", "axis": {"values": [50, 60, 70, 80, 90, 100], "labelFontSize": 12, "tickSize": 4, "labelPadding": 1, "title": null}}}},
       {"data": {"name": "gSum"}, "transform": [{"filter": "datum.cl == 'H23'"}],
        "mark": {"type": "errorbar", "color": "black", "ticks": {"size": 8}, "thickness": 1.2},
        "encoding": {"y": {"field": "lo", "type": "quantitative", "axis": {"values": [50, 60, 70, 80, 90, 100], "labelFontSize": 12, "tickSize": 4, "labelPadding": 1, "title": null}}, "y2": {"field": "hi"}}}
     ]},
    {"width": 83, "height": 79,
     "title": {"text": "H460", "fontSize": 13, "fontWeight": "bold", "offset": 7},
     "encoding": {"x": {"field": "t", "type": "nominal", "sort": null, "scale": {"domain": ["Non-treated", "MβCD-treated", "Simva-treated", "SMase-treated"], "paddingInner": 0.3, "paddingOuter": 0.19}, "axis": {"title": null, "labelAngle": -45, "labelFontSize": 11, "tickSize": 4, "labelPadding": 2}}},
     "layer": [
       {"data": {"name": "gPts"}, "transform": [{"filter": "datum.cl == 'H460'"}],
        "mark": {"type": "point", "filled": true, "color": "black", "size": 28, "opacity": 1},
        "encoding": {"y": {"field": "v", "type": "quantitative", "scale": {"domain": [50, 100]}, "axis": {"values": [50, 60, 70, 80, 90, 100], "labelFontSize": 12, "tickSize": 4, "labelPadding": 1, "title": null}},
          "xOffset": {"field": "r", "type": "nominal"},
          "shape": {"field": "t", "type": "nominal", "scale": {"domain": ["Non-treated", "MβCD-treated", "Simva-treated", "SMase-treated"], "range": ["circle", "diamond", "triangle-up", "square"]}, "legend": null}}},
       {"data": {"name": "gSum"}, "transform": [{"filter": "datum.cl == 'H460'"}],
        "mark": {"type": "tick", "color": "black", "size": 15, "thickness": 1.2},
        "encoding": {"y": {"field": "m", "type": "quantitative", "axis": {"values": [50, 60, 70, 80, 90, 100], "labelFontSize": 12, "tickSize": 4, "labelPadding": 1, "title": null}}}},
       {"data": {"name": "gSum"}, "transform": [{"filter": "datum.cl == 'H460'"}],
        "mark": {"type": "errorbar", "color": "black", "ticks": {"size": 8}, "thickness": 1.2},
        "encoding": {"y": {"field": "lo", "type": "quantitative", "axis": {"values": [50, 60, 70, 80, 90, 100], "labelFontSize": 12, "tickSize": 4, "labelPadding": 1, "title": null}}, "y2": {"field": "hi"}}}
     ]},
    {"width": 83, "height": 79,
     "title": {"text": "A549", "fontSize": 13, "fontWeight": "bold", "offset": 7},
     "encoding": {"x": {"field": "t", "type": "nominal", "sort": null, "scale": {"domain": ["Non-treated", "MβCD-treated", "Simva-treated", "SMase-treated"], "paddingInner": 0.3, "paddingOuter": 0.19}, "axis": {"title": null, "labelAngle": -45, "labelFontSize": 11, "tickSize": 4, "labelPadding": 2}}},
     "layer": [
       {"data": {"name": "gPts"}, "transform": [{"filter": "datum.cl == 'A549'"}],
        "mark": {"type": "point", "filled": true, "color": "black", "size": 28, "opacity": 1},
        "encoding": {"y": {"field": "v", "type": "quantitative", "scale": {"domain": [50, 100]}, "axis": {"values": [50, 60, 70, 80, 90, 100], "labelFontSize": 12, "tickSize": 4, "labelPadding": 1, "title": null}},
          "xOffset": {"field": "r", "type": "nominal"},
          "shape": {"field": "t", "type": "nominal", "scale": {"domain": ["Non-treated", "MβCD-treated", "Simva-treated", "SMase-treated"], "range": ["circle", "diamond", "triangle-up", "square"]}, "legend": null}}},
       {"data": {"name": "gSum"}, "transform": [{"filter": "datum.cl == 'A549'"}],
        "mark": {"type": "tick", "color": "black", "size": 15, "thickness": 1.2},
        "encoding": {"y": {"field": "m", "type": "quantitative", "axis": {"values": [50, 60, 70, 80, 90, 100], "labelFontSize": 12, "tickSize": 4, "labelPadding": 1, "title": null}}}},
       {"data": {"name": "gSum"}, "transform": [{"filter": "datum.cl == 'A549'"}],
        "mark": {"type": "errorbar", "color": "black", "ticks": {"size": 8}, "thickness": 1.2},
        "encoding": {"y": {"field": "lo", "type": "quantitative", "axis": {"values": [50, 60, 70, 80, 90, 100], "labelFontSize": 12, "tickSize": 4, "labelPadding": 1, "title": null}}, "y2": {"field": "hi"}}}
     ]},
    {"width": 83, "height": 79,
     "title": {"text": "SHP-77", "fontSize": 13, "fontWeight": "bold", "offset": 7},
     "encoding": {"x": {"field": "t", "type": "nominal", "sort": null, "scale": {"domain": ["Non-treated", "MβCD-treated", "Simva-treated", "SMase-treated"], "paddingInner": 0.3, "paddingOuter": 0.19}, "axis": {"title": null, "labelAngle": -45, "labelFontSize": 11, "tickSize": 4, "labelPadding": 2}}},
     "layer": [
       {"data": {"name": "gPts"}, "transform": [{"filter": "datum.cl == 'SHP-77'"}],
        "mark": {"type": "point", "filled": true, "color": "black", "size": 28, "opacity": 1},
        "encoding": {"y": {"field": "v", "type": "quantitative", "scale": {"domain": [50, 100]}, "axis": {"values": [50, 60, 70, 80, 90, 100], "labelFontSize": 12, "tickSize": 4, "labelPadding": 1, "title": null}},
          "xOffset": {"field": "r", "type": "nominal"},
          "shape": {"field": "t", "type": "nominal", "scale": {"domain": ["Non-treated", "MβCD-treated", "Simva-treated", "SMase-treated"], "range": ["circle", "diamond", "triangle-up", "square"]}, "legend": null}}},
       {"data": {"name": "gSum"}, "transform": [{"filter": "datum.cl == 'SHP-77'"}],
        "mark": {"type": "tick", "color": "black", "size": 15, "thickness": 1.2},
        "encoding": {"y": {"field": "m", "type": "quantitative", "axis": {"values": [50, 60, 70, 80, 90, 100], "labelFontSize": 12, "tickSize": 4, "labelPadding": 1, "title": null}}}},
       {"data": {"name": "gSum"}, "transform": [{"filter": "datum.cl == 'SHP-77'"}],
        "mark": {"type": "errorbar", "color": "black", "ticks": {"size": 8}, "thickness": 1.2},
        "encoding": {"y": {"field": "lo", "type": "quantitative", "axis": {"values": [50, 60, 70, 80, 90, 100], "labelFontSize": 12, "tickSize": 4, "labelPadding": 1, "title": null}}, "y2": {"field": "hi"}}}
     ]}
    ]
    }
  ]
}
]
}
